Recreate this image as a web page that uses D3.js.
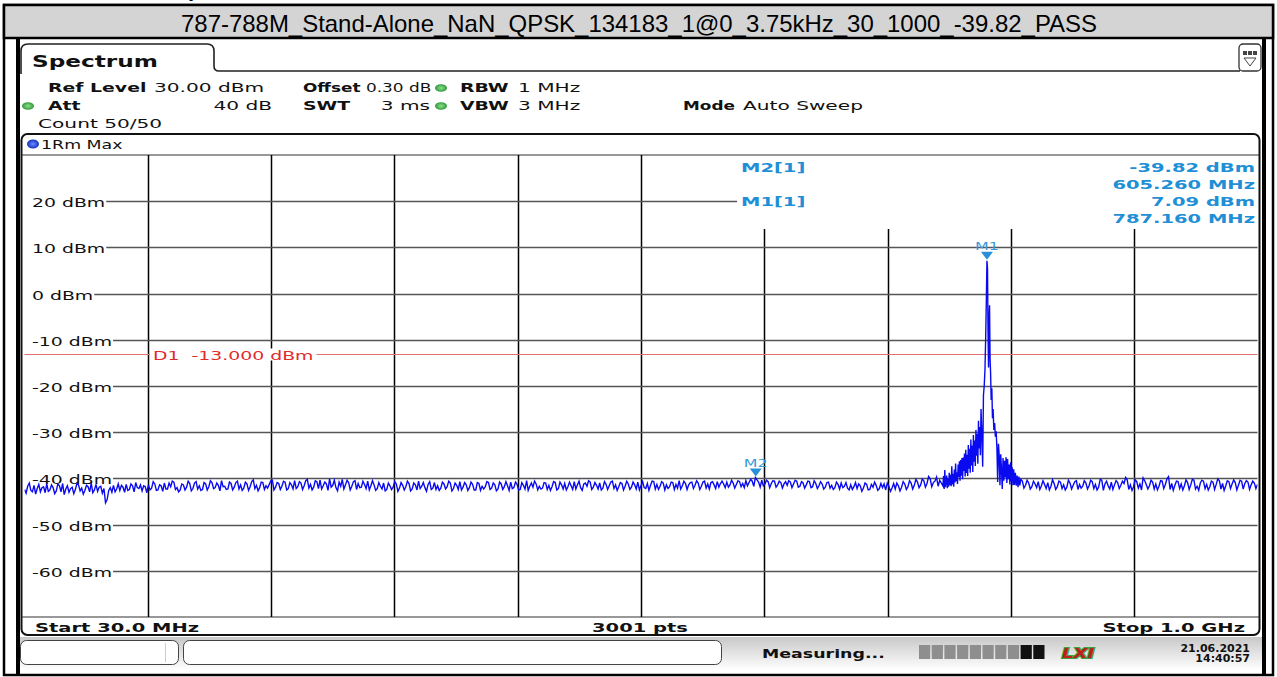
<!DOCTYPE html>
<html><head><meta charset="utf-8">
<script src="https://cdn.jsdelivr.net/npm/d3@7"></script>
<style>
html,body{margin:0;padding:0;background:#fff;overflow:hidden}
svg{display:block}
text{white-space:pre}
</style></head><body>
<svg id="c" width="1277" height="677"></svg>
<script>
// ---------------- data ----------------
const titleText = "787-788M_Stand-Alone_NaN_QPSK_134183_1@0_3.75kHz_30_1000_-39.82_PASS";
const startFreq = 30, stopFreq = 1000;          // MHz
const refLevel = 30, bottomLevel = -70;         // dBm
const yTickLevels = [20, 10, 0, -10, -20, -30, -40, -50, -60];
const yTickLabels = ["20 dBm", "10 dBm", "0 dBm", "-10 dBm", "-20 dBm", "-30 dBm", "-40 dBm", "-50 dBm", "-60 dBm"];
const xDivisions = 10;
const displayLineLevel = -13;
const displayLineLabel = "D1  -13.000 dBm";

const markerNames = ["M1", "M2"];
const markerFreqs = [787.16, 605.26];
const markerLevels = [7.09, -39.82];
const markerInfoNames = ["M2[1]", "M1[1]"];
const markerInfoLevels = ["-39.82 dBm", "7.09 dBm"];
const markerInfoFreqs = ["605.260 MHz", "787.160 MHz"];

const settingsRow1 = [["Ref Level", "30.00 dBm"], ["Offset", "0.30 dB"], ["RBW", "1 MHz"]];
const settingsRow2 = [["Att", "40 dB"], ["SWT", "3 ms"], ["VBW", "3 MHz"], ["Mode", "Auto Sweep"]];
const countText = "Count 50/50";
const traceName = "1Rm Max";
const footerLabels = ["Start 30.0 MHz", "3001 pts", "Stop 1.0 GHz"];
const statusText = "Measuring...";
const dateText = "21.06.2021", timeText = "14:40:57";

// trace: noise floor below the carrier, sweep points 30, 32.5, 35 ... 750 MHz
const lowBandStart = 30, lowBandStep = 2.5;
const lowBandLevels = [
 -42.4,-41.7,-42.6,-41.5,-42.2,-42.9,-41.8,-41.2,-42.5,-42.0,
 -42.7,-41.6,-41.1,-42.3,-43.0,-41.9,-42.4,-41.4,-42.1,-42.6,
 -41.8,-41.0,-42.5,-42.8,-41.7,-42.2,-44.6,-42.0,-41.5,-42.3,
 -42.6,-41.9,-41.3,-42.4,-41.6,-40.9,-42.2,-42.7,-41.8,-41.4,
 -42.1,-41.2,-42.5,-41.6,-41.0,-42.3,-41.8,-40.8,-42.0,-42.5,
 -41.4,-41.9,-41.1,-42.2,-40.7,-41.6,-42.4,-41.2,-41.8,-40.9,
 -42.0,-41.5,-40.5,-41.7,-42.3,-41.1,-41.9,-40.6,-41.4,-42.1,
 -41.2,-41.8,-40.3,-41.5,-42.0,-40.9,-41.6,-41.3,-40.4,-41.9,
 -41.1,-41.7,-40.8,-42.2,-41.4,-40.5,-41.8,-41.0,-41.6,-40.2,
 -41.3,-41.9,-40.7,-40.4,-41.6,-41.2,-40.1,-41.5,-42.0,-40.8,
 -40.2,-41.4,-40.9,-41.7,-40.5,-41.1,-41.9,-41.3,-40.6,-41.6,
 -41.4,-42.2,-41.7,-41.0,-42.4,-41.6,-41.9,-41.2,-42.1,-41.5,
 -41.8,-41.1,-42.3,-41.4,-40.6,-41.7,-42.0,-41.3,-42.4,-40.9,
 -41.6,-42.1,-41.2,-41.8,-41.0,-42.2,-41.5,-40.7,-41.9,-41.4,
 -42.0,-41.3,-42.5,-41.1,-41.7,-41.8,-40.9,-42.1,-41.4,-42.3,
 -41.2,-41.8,-41.6,-40.8,-42.0,-41.3,-42.4,-41.5,-40.5,-41.7,
 -41.9,-41.2,-41.7,-42.1,-41.0,-41.5,-41.8,-40.9,-42.2,-41.4,
 -41.1,-41.8,-41.6,-40.7,-41.4,-42.0,-41.2,-41.7,-40.8,-41.9,
 -41.5,-41.0,-42.1,-41.3,-41.6,-40.6,-41.4,-41.8,-41.1,-41.7,
 -41.2,-41.9,-41.4,-40.8,-41.6,-42.0,-41.1,-41.5,-40.7,-41.3,
 -41.7,-41.0,-41.4,-41.8,-40.9,-41.3,-40.5,-41.6,-41.1,-41.4,
 -40.8,-41.5,-41.0,-41.7,-40.6,-41.2,-40.9,-41.4,-40.7,-41.1,
 -41.2,-40.8,-41.4,-41.0,-41.3,-40.7,-41.1,-40.5,-40.9,-40.6,
 -39.82,-40.8,-40.4,-41.2,-40.7,-41.1,-40.6,-41.4,-40.9,-41.2,
 -41.5,-40.8,-41.2,-40.6,-41.7,-41.0,-41.4,-40.7,-41.8,-41.1,
 -41.6,-41.2,-41.9,-40.8,-41.5,-42.0,-41.3,-41.0,-41.7,-42.1,
 -41.4,-41.8,-42.2,-41.6,-42.1,-41.3,-42.4,-41.9,-41.5,-42.2,
 -42.0,-42.5,-41.7,-42.1,-42.3,-41.6,-41.9,-41.2,-41.8,-41.0,
 -41.5,-40.8,-41.4,-40.5,-41.1,-40.1,-40.9,-39.7,-40.4
];
// in-between sweep points 31.25, 33.75 ... 748.75 MHz
const lowBandMidStart = 31.25;
const lowBandMidLevels = [
 -43.2,-41.0,-42.9,-43.4,-41.3,-42.0,-43.1,-42.8,-41.4,-43.3,
 -41.2,-42.9,-43.5,-41.6,-42.2,-43.3,-41.1,-42.7,-43.4,-41.5,
 -42.9,-43.1,-41.3,-41.9,-43.2,-45.3,-42.6,-43.0,-42.9,-41.2,
 -41.5,-43.0,-42.6,-41.2,-42.9,-42.0,-41.4,-41.6,-43.1,-42.5,
 -40.7,-42.6,-41.4,-42.8,-42.3,-41.0,-40.6,-42.4,-42.9,-41.2,
 -42.5,-40.6,-42.7,-41.0,-42.3,-42.6,-40.9,-42.5,-40.5,-42.2,
 -41.0,-42.7,-41.8,-42.4,-40.8,-42.5,-40.9,-42.3,-42.6,-40.8,
 -42.6,-40.7,-42.2,-42.7,-40.8,-42.4,-42.1,-40.5,-42.5,-40.9,
 -42.4,-40.6,-42.5,-40.9,-42.3,-42.2,-40.7,-42.4,-40.5,-42.1,
 -42.5,-40.5,-42.2,-42.3,-40.8,-42.6,-41.9,-40.4,-42.7,-41.7,
 -42.3,-40.4,-42.5,-40.7,-42.4,-42.0,-40.6,-42.2,-42.5,-40.5,
 -42.6,-40.9,-42.3,-42.7,-41.0,-42.4,-40.7,-42.8,-40.9,-42.5,
 -40.6,-42.7,-41.0,-42.5,-42.2,-40.9,-42.8,-40.7,-42.1,-42.4,
 -42.6,-40.8,-42.3,-40.6,-42.7,-41.0,-42.4,-42.5,-40.9,-42.6,
 -40.8,-42.5,-40.9,-42.6,-42.3,-40.7,-42.4,-41.0,-42.7,-40.8,
 -42.4,-40.7,-42.6,-42.2,-40.8,-42.5,-40.9,-42.3,-42.6,-41.0,
 -40.6,-42.5,-42.3,-40.9,-42.4,-42.6,-40.7,-42.5,-40.8,-42.3,
 -42.5,-40.8,-42.4,-42.3,-40.6,-42.6,-41.0,-40.5,-42.4,-40.9,
 -42.3,-42.5,-40.7,-42.4,-40.8,-42.2,-42.6,-40.9,-42.5,-40.6,
 -42.4,-40.8,-42.3,-42.5,-40.7,-42.2,-42.6,-40.6,-42.3,-42.4,
 -40.7,-42.5,-42.2,-40.8,-42.4,-42.1,-42.3,-40.6,-42.4,-40.9,
 -42.2,-40.5,-42.4,-40.8,-42.1,-42.3,-40.7,-42.2,-41.9,-40.6,
 -42.0,-41.9,-40.4,-42.1,-40.5,-41.8,-42.0,-41.6,-40.2,-41.7,
 -40.3,-41.9,-41.6,-40.4,-42.0,-40.5,-41.9,-40.6,-42.1,-40.7,
 -40.5,-42.0,-40.4,-41.9,-40.7,-42.1,-40.6,-42.0,-40.5,-42.2,
 -40.7,-42.3,-40.9,-42.1,-42.4,-40.8,-42.3,-42.0,-40.9,-42.5,
 -42.4,-40.9,-41.2,-42.8,-41.0,-42.5,-41.3,-40.8,-42.6,-41.1,
 -41.2,-41.0,-42.8,-41.1,-41.0,-42.7,-40.7,-42.4,-40.5,-42.3,
 -40.2,-42.0,-40.1,-41.9,-39.6,-41.8,-40.6,-41.7
];
// carrier and its skirts: [MHz, dBm]
const peakTrace = [
 [752.5,-41.6],[753.0,-39.5],[753.5,-42.3],[754.0,-38.2],[754.5,-41.9],[755.0,-40.6],[755.5,-39.4],[756.0,-42.1],
 [756.5,-40.0],[757.0,-41.8],[757.5,-38.8],[758.0,-41.5],[758.5,-39.2],[759.0,-41.7],[759.5,-37.4],[760.0,-41.3],
 [760.5,-39.0],[761.0,-41.8],[761.5,-38.1],[762.0,-40.9],[762.5,-36.8],[763.0,-40.6],[763.5,-38.7],[764.0,-41.2],
 [764.5,-37.0],[765.0,-39.7],[765.5,-36.3],[766.0,-40.5],[766.5,-36.0],[767.0,-39.4],[767.5,-35.6],[768.0,-40.2],
 [768.5,-35.5],[769.0,-38.4],[769.5,-34.6],[770.0,-39.6],[770.5,-33.8],[771.0,-38.8],[771.5,-34.9],[772.0,-39.5],
 [772.5,-32.8],[773.0,-37.9],[773.5,-33.6],[774.0,-38.8],[774.5,-31.6],[775.0,-37.2],[775.5,-32.9],[776.0,-38.6],
 [776.5,-30.6],[777.0,-36.4],[777.5,-31.8],[778.0,-37.3],[778.5,-29.5],[779.0,-35.1],[779.5,-30.4],[780.0,-36.8],
 [780.5,-27.5],[781.0,-33.5],[781.5,-28.9],[782.0,-35.0],[782.5,-25.0],[783.2,-31.0],[783.8,-37.5],[784.4,-22.0],
 [785.0,-20.0],[785.6,-16.5],[786.2,-9.0],[786.7,-1.0],[787.16,7.09],[787.6,5.5],[788.0,-8.0],[788.4,-16.0],
 [788.8,-6.0],[789.2,-2.5],[789.6,-14.0],[790.0,-17.0],[790.5,-23.0],[791.0,-20.5],[791.5,-27.0],[792.0,-25.0],
 [792.6,-29.5],[793.2,-28.0],[793.8,-31.0],[794.4,-29.8],[795.0,-33.5],[795.6,-40.8],[796.2,-32.5],[796.8,-35.0],
 [797.4,-41.5],[798.0,-34.8],[798.6,-38.0],[799.2,-42.3],[799.8,-35.6],[800.4,-40.5],[801.0,-36.2],[801.6,-39.8],
 [802.2,-35.4],[802.8,-41.0],[803.4,-35.8],[804.0,-40.2],[804.6,-37.0],[805.2,-41.3],[805.8,-36.5],[806.4,-40.6],
 [807.0,-37.6],[807.6,-41.5],[808.2,-38.0],[808.8,-41.4],[809.5,-38.8],[810.2,-41.6],[810.9,-39.4],[811.6,-41.9],
 [812.3,-39.6],[813.0,-41.5],[813.8,-40.2]
];
// noise floor above the carrier, sweep points 815, 817.5 ... 1000 MHz
const highBandStart = 815, highBandStep = 2.5;
const highBandLevels = [
 -40.6,-41.5,-41.0,-41.8,-41.2,-40.7,-41.6,-41.3,-40.9,-41.7,
 -41.1,-41.8,-40.8,-41.4,-41.9,-41.0,-41.5,-40.5,-41.3,-41.7,
 -41.0,-41.6,-40.7,-41.3,-41.9,-40.4,-41.2,-41.6,-40.8,-41.4,
 -40.9,-41.5,-41.1,-40.3,-41.4,-41.8,-40.7,-41.2,-39.9,-41.3,
 -41.6,-40.8,-41.2,-41.7,-40.6,-41.3,-39.6,-41.1,-41.5,-40.7,
 -41.2,-41.6,-40.9,-41.4,-40.4,-41.7,-41.0,-40.6,-41.3,-41.8,
 -40.8,-41.3,-40.5,-41.1,-41.6,-40.7,-41.2,-40.9,-41.5,-40.6,
 -41.1,-40.8,-41.4,-41.0,-41.3
];
// in-between sweep points 816.25 ... 998.75 MHz
const highBandMidStart = 816.25;
const highBandMidLevels = [
 -42.1,-40.4,-42.3,-40.6,-42.0,-42.4,-40.5,-42.2,-42.5,-40.3,
 -42.4,-40.6,-42.2,-42.5,-40.4,-42.3,-40.7,-42.4,-42.1,-40.5,
 -42.3,-40.4,-42.2,-42.5,-40.2,-42.6,-40.6,-42.3,-42.4,-40.5,
 -42.2,-40.6,-39.8,-42.4,-42.6,-40.3,-42.1,-42.5,-40.5,-42.3,
 -40.4,-42.3,-42.5,-40.5,-42.2,-40.1,-42.4,-42.6,-40.6,-42.2,
 -42.5,-40.3,-42.4,-40.2,-42.3,-42.6,-40.4,-42.2,-42.5,-40.6,
 -42.4,-40.1,-42.3,-42.6,-40.5,-42.2,-40.3,-42.5,-40.4,-42.3,
 -40.5,-42.4,-40.6,-42.2
];

// ---------------- drawing ----------------
const svg = d3.select("#c");
const SX = 1.45;
const FONT = "'DejaVu Sans', Verdana, sans-serif";
const BLUE_INFO = "#1f8fd6";

function txt(parent, x, y, s, o = {}) {
  return parent.append("text")
    .attr("transform", `translate(${x},${y}) scale(${o.sx || SX},1)`)
    .attr("font-family", o.family || FONT)
    .attr("font-size", o.size || 13)
    .attr("font-weight", o.bold ? "bold" : "normal")
    .attr("fill", o.fill || "#111")
    .attr("text-anchor", o.anchor || "start")
    .text(s);
}

const defs = svg.append("defs");
const g1 = defs.append("linearGradient").attr("id", "statusGrad").attr("x1", 0).attr("y1", 0).attr("x2", 0).attr("y2", 1);
g1.append("stop").attr("offset", "0%").attr("stop-color", "#c8c8c8");
g1.append("stop").attr("offset", "100%").attr("stop-color", "#ffffff");
const g2 = defs.append("radialGradient").attr("id", "greenDot");
g2.append("stop").attr("offset", "0%").attr("stop-color", "#8fe08f");
g2.append("stop").attr("offset", "100%").attr("stop-color", "#2f9a3a");
const g3 = defs.append("radialGradient").attr("id", "blueDot");
g3.append("stop").attr("offset", "0%").attr("stop-color", "#6a8dff");
g3.append("stop").attr("offset", "100%").attr("stop-color", "#1530c0");

// outer table + title row
svg.append("rect").attr("x", 4).attr("y", 5).attr("width", 1269).attr("height", 670)
  .attr("fill", "#fff").attr("stroke", "#000").attr("stroke-width", 2.5);
svg.append("rect").attr("x", 4).attr("y", 5).attr("width", 1269).attr("height", 33)
  .attr("fill", "#d4d4d4").attr("stroke", "#000").attr("stroke-width", 2.5);
svg.append("text").attr("x", 639).attr("y", 32).attr("text-anchor", "middle")
  .attr("font-family", "'Liberation Sans', Arial, sans-serif").attr("font-size", 24)
  .attr("textLength", 916).attr("lengthAdjust", "spacingAndGlyphs")
  .attr("fill", "#000").text(titleText);

// screenshot edges
svg.append("rect").attr("x", 16).attr("y", 39).attr("width", 4).attr("height", 637).attr("fill", "#000");
svg.append("rect").attr("x", 1262).attr("y", 39).attr("width", 4).attr("height", 637).attr("fill", "#000");

// tab
svg.append("path").attr("d", "M21,74 L21,51 Q21,44 28,44 L207,44 Q214,44 214,51 L214,66 Q214,71 219,71 L1240,71")
  .attr("fill", "none").attr("stroke", "#222").attr("stroke-width", 1.6);
txt(svg, 32, 67, "Spectrum", { bold: true, size: 16 });
// icon
svg.append("rect").attr("x", 1239).attr("y", 44).attr("width", 22).attr("height", 27).attr("rx", 4)
  .attr("fill", "#fff").attr("stroke", "#333").attr("stroke-width", 1.3);
[0, 1, 2].forEach(i => svg.append("rect").attr("x", 1243 + i * 5).attr("y", 51).attr("width", 4).attr("height", 4).attr("fill", "#444"));
svg.append("path").attr("d", "M1244,58 L1256,58 L1250,66 Z").attr("fill", "none").attr("stroke", "#444").attr("stroke-width", 1);

// settings
const RS = 1.55; // width scale of regular settings text
txt(svg, 48, 92, settingsRow1[0][0], { bold: true });
txt(svg, 154, 92, settingsRow1[0][1], { sx: RS });
txt(svg, 303, 92, settingsRow1[1][0], { bold: true, sx: 1.3 });
txt(svg, 366, 92, settingsRow1[1][1], { sx: 1.3 });
txt(svg, 460, 92, settingsRow1[2][0], { bold: true });
txt(svg, 518, 92, settingsRow1[2][1], { sx: RS });
svg.append("ellipse").attr("cx", 441).attr("cy", 88).attr("rx", 6).attr("ry", 3.8).attr("fill", "url(#greenDot)");
svg.append("ellipse").attr("cx", 28).attr("cy", 106).attr("rx", 6).attr("ry", 3.8).attr("fill", "url(#greenDot)");
svg.append("ellipse").attr("cx", 441).attr("cy", 106).attr("rx", 6).attr("ry", 3.8).attr("fill", "url(#greenDot)");
txt(svg, 48, 110, settingsRow2[0][0], { bold: true });
txt(svg, 272, 110, settingsRow2[0][1], { anchor: "end", sx: RS });
txt(svg, 303, 110, settingsRow2[1][0], { bold: true });
txt(svg, 430, 110, settingsRow2[1][1], { anchor: "end", sx: RS });
txt(svg, 460, 110, settingsRow2[2][0], { bold: true });
txt(svg, 518, 110, settingsRow2[2][1], { sx: RS });
txt(svg, 683, 110, settingsRow2[3][0], { bold: true, sx: 1.3 });
txt(svg, 743, 110, settingsRow2[3][1], { sx: RS });
txt(svg, 38, 128, countText, { sx: RS });

// diagram frame
const L = 24.5, R = 1257.5, T = 155, B = 617;
svg.append("rect").attr("x", 21.5).attr("y", 134).attr("width", 1238).attr("height", 501).attr("rx", 6)
  .attr("fill", "#fff").attr("stroke", "#111").attr("stroke-width", 2);
svg.append("line").attr("x1", 22).attr("x2", 1259).attr("y1", T).attr("y2", T).attr("stroke", "#333").attr("stroke-width", 1.2);
svg.append("line").attr("x1", 22).attr("x2", 1259).attr("y1", B).attr("y2", B).attr("stroke", "#333").attr("stroke-width", 1.2);
svg.append("ellipse").attr("cx", 33).attr("cy", 144).attr("rx", 6).attr("ry", 4.5).attr("fill", "url(#blueDot)");
txt(svg, 41, 149, traceName, { size: 12 });

const x = d3.scaleLinear().domain([startFreq, stopFreq]).range([L, R]);
const y = d3.scaleLinear().domain([bottomLevel, refLevel]).range([B, T]);

const grid = svg.append("g");
const infoBox = { x0: 737, y1: 229 };
// vertical grid
const vFreqs = d3.range(1, xDivisions).map(i => startFreq + (stopFreq - startFreq) * i / xDivisions);
vFreqs.forEach(f => {
  const xv = Math.round(x(f)) + 0.5;
  grid.append("line").attr("x1", xv).attr("x2", xv)
    .attr("y1", xv > infoBox.x0 ? infoBox.y1 : T).attr("y2", B)
    .attr("stroke", "#000").attr("stroke-width", 1.5);
});
// horizontal grid with labels
yTickLevels.forEach((lv, i) => {
  const yy = Math.round(y(lv)) + 0.5;
  const t = txt(grid, 32, yy + 5, yTickLabels[i]);
  const w = t.node().getComputedTextLength() * SX;
  grid.append("line").attr("x1", 32 + w + 1).attr("x2", yy < infoBox.y1 ? infoBox.x0 : R)
    .attr("y1", yy).attr("y2", yy).attr("stroke", "#555").attr("stroke-width", 1.3);
});
// display line D1
const yd = Math.round(y(displayLineLevel)) + 0.5;
svg.append("line").attr("x1", L).attr("x2", R).attr("y1", yd).attr("y2", yd).attr("stroke", "#e07070").attr("stroke-width", 1.2);
const dl = txt(svg, 153, yd + 5, displayLineLabel, { fill: "#e02a2a" });
const dw = dl.node().getComputedTextLength() * SX;
svg.insert("rect", () => dl.node()).attr("x", 150).attr("y", yd - 6).attr("width", dw + 6).attr("height", 12).attr("fill", "#fff");

// marker info
const MS = 1.5;
txt(svg, 741, 172, markerInfoNames[0], { bold: true, fill: BLUE_INFO, sx: MS });
txt(svg, 741, 206, markerInfoNames[1], { bold: true, fill: BLUE_INFO, sx: MS });
txt(svg, 1255, 172, markerInfoLevels[0], { bold: true, fill: BLUE_INFO, anchor: "end", sx: MS });
txt(svg, 1255, 189, markerInfoFreqs[0], { bold: true, fill: BLUE_INFO, anchor: "end", sx: MS });
txt(svg, 1255, 206, markerInfoLevels[1], { bold: true, fill: BLUE_INFO, anchor: "end", sx: MS });
txt(svg, 1255, 223, markerInfoFreqs[1], { bold: true, fill: BLUE_INFO, anchor: "end", sx: MS });

// trace
const pts = [];
lowBandLevels.forEach((v, i) => pts.push({ f: lowBandStart + i * lowBandStep, v }));
lowBandMidLevels.forEach((v, i) => pts.push({ f: lowBandMidStart + i * lowBandStep, v }));
peakTrace.forEach(p => pts.push({ f: p[0], v: p[1] }));
highBandLevels.forEach((v, i) => pts.push({ f: highBandStart + i * highBandStep, v }));
highBandMidLevels.forEach((v, i) => pts.push({ f: highBandMidStart + i * highBandStep, v }));
pts.sort((a, b) => a.f - b.f);
defs.append("clipPath").attr("id", "plotClip").append("rect").attr("x", L).attr("y", T).attr("width", R - L).attr("height", B - T);
svg.append("path").datum(pts)
  .attr("clip-path", "url(#plotClip)")
  .attr("d", d3.line().x(d => x(d.f)).y(d => y(d.v)))
  .attr("fill", "none").attr("stroke", "#0a0af0").attr("stroke-width", 1.4).attr("stroke-linejoin", "miter");

// markers
markerNames.forEach((n, i) => {
  const mx = x(markerFreqs[i]), my = y(markerLevels[i]);
  svg.append("path").attr("d", `M${mx - 6},${my - 9} L${mx + 6},${my - 9} L${mx},${my - 1} Z`).attr("fill", "#2a8fd8");
  txt(svg, mx, my - 11, n, { size: 11, fill: "#3a9ad8", anchor: "middle" });
});

// footer
txt(svg, 35, 632, footerLabels[0], { bold: true, sx: 1.5 });
txt(svg, 640, 632, footerLabels[1], { bold: true, anchor: "middle", sx: 1.5 });
txt(svg, 1245, 632, footerLabels[2], { bold: true, anchor: "end", sx: 1.5 });

// status bar
svg.append("rect").attr("x", 20).attr("y", 637).attr("width", 1242).attr("height", 33).attr("fill", "url(#statusGrad)");
svg.append("rect").attr("x", 20.5).attr("y", 640.5).attr("width", 158).attr("height", 24).attr("rx", 6)
  .attr("fill", "#fff").attr("stroke", "#444");
svg.append("line").attr("x1", 165.5).attr("x2", 165.5).attr("y1", 643).attr("y2", 662).attr("stroke", "#ccc");
svg.append("rect").attr("x", 183.5).attr("y", 640.5).attr("width", 538).attr("height", 24).attr("rx", 6)
  .attr("fill", "#fff").attr("stroke", "#444");
txt(svg, 762, 658, statusText, { bold: true, size: 12 });
for (let i = 0; i < 10; i++) {
  svg.append("rect").attr("x", 919 + i * 12.7).attr("y", 645).attr("width", 11.2).attr("height", 14)
    .attr("fill", i >= 8 ? "#111" : "#8e8e8e");
}
svg.append("text").attr("x", 1062).attr("y", 658).attr("font-family", "'DejaVu Sans', sans-serif")
  .attr("font-size", 14).attr("font-weight", "bold").attr("font-style", "italic")
  .attr("fill", "#c0201a").attr("stroke", "#3aa040").attr("stroke-width", 2).attr("paint-order", "stroke")
  .attr("transform", "translate(1062,0) scale(1.3,1) translate(-1062,0)").text("LXI");
txt(svg, 1250, 652, dateText, { bold: true, size: 10, sx: 1.1, anchor: "end" });
txt(svg, 1250, 662, timeText, { bold: true, size: 10, sx: 1.1, anchor: "end" });

// clipped heading fragment above the title row
svg.append("text").attr("x", 188).attr("y", -4).attr("font-family", "'Liberation Sans', Arial, sans-serif")
  .attr("font-size", 22).attr("font-weight", "bold").attr("fill", "#000").text("p");
</script>
</body></html>
